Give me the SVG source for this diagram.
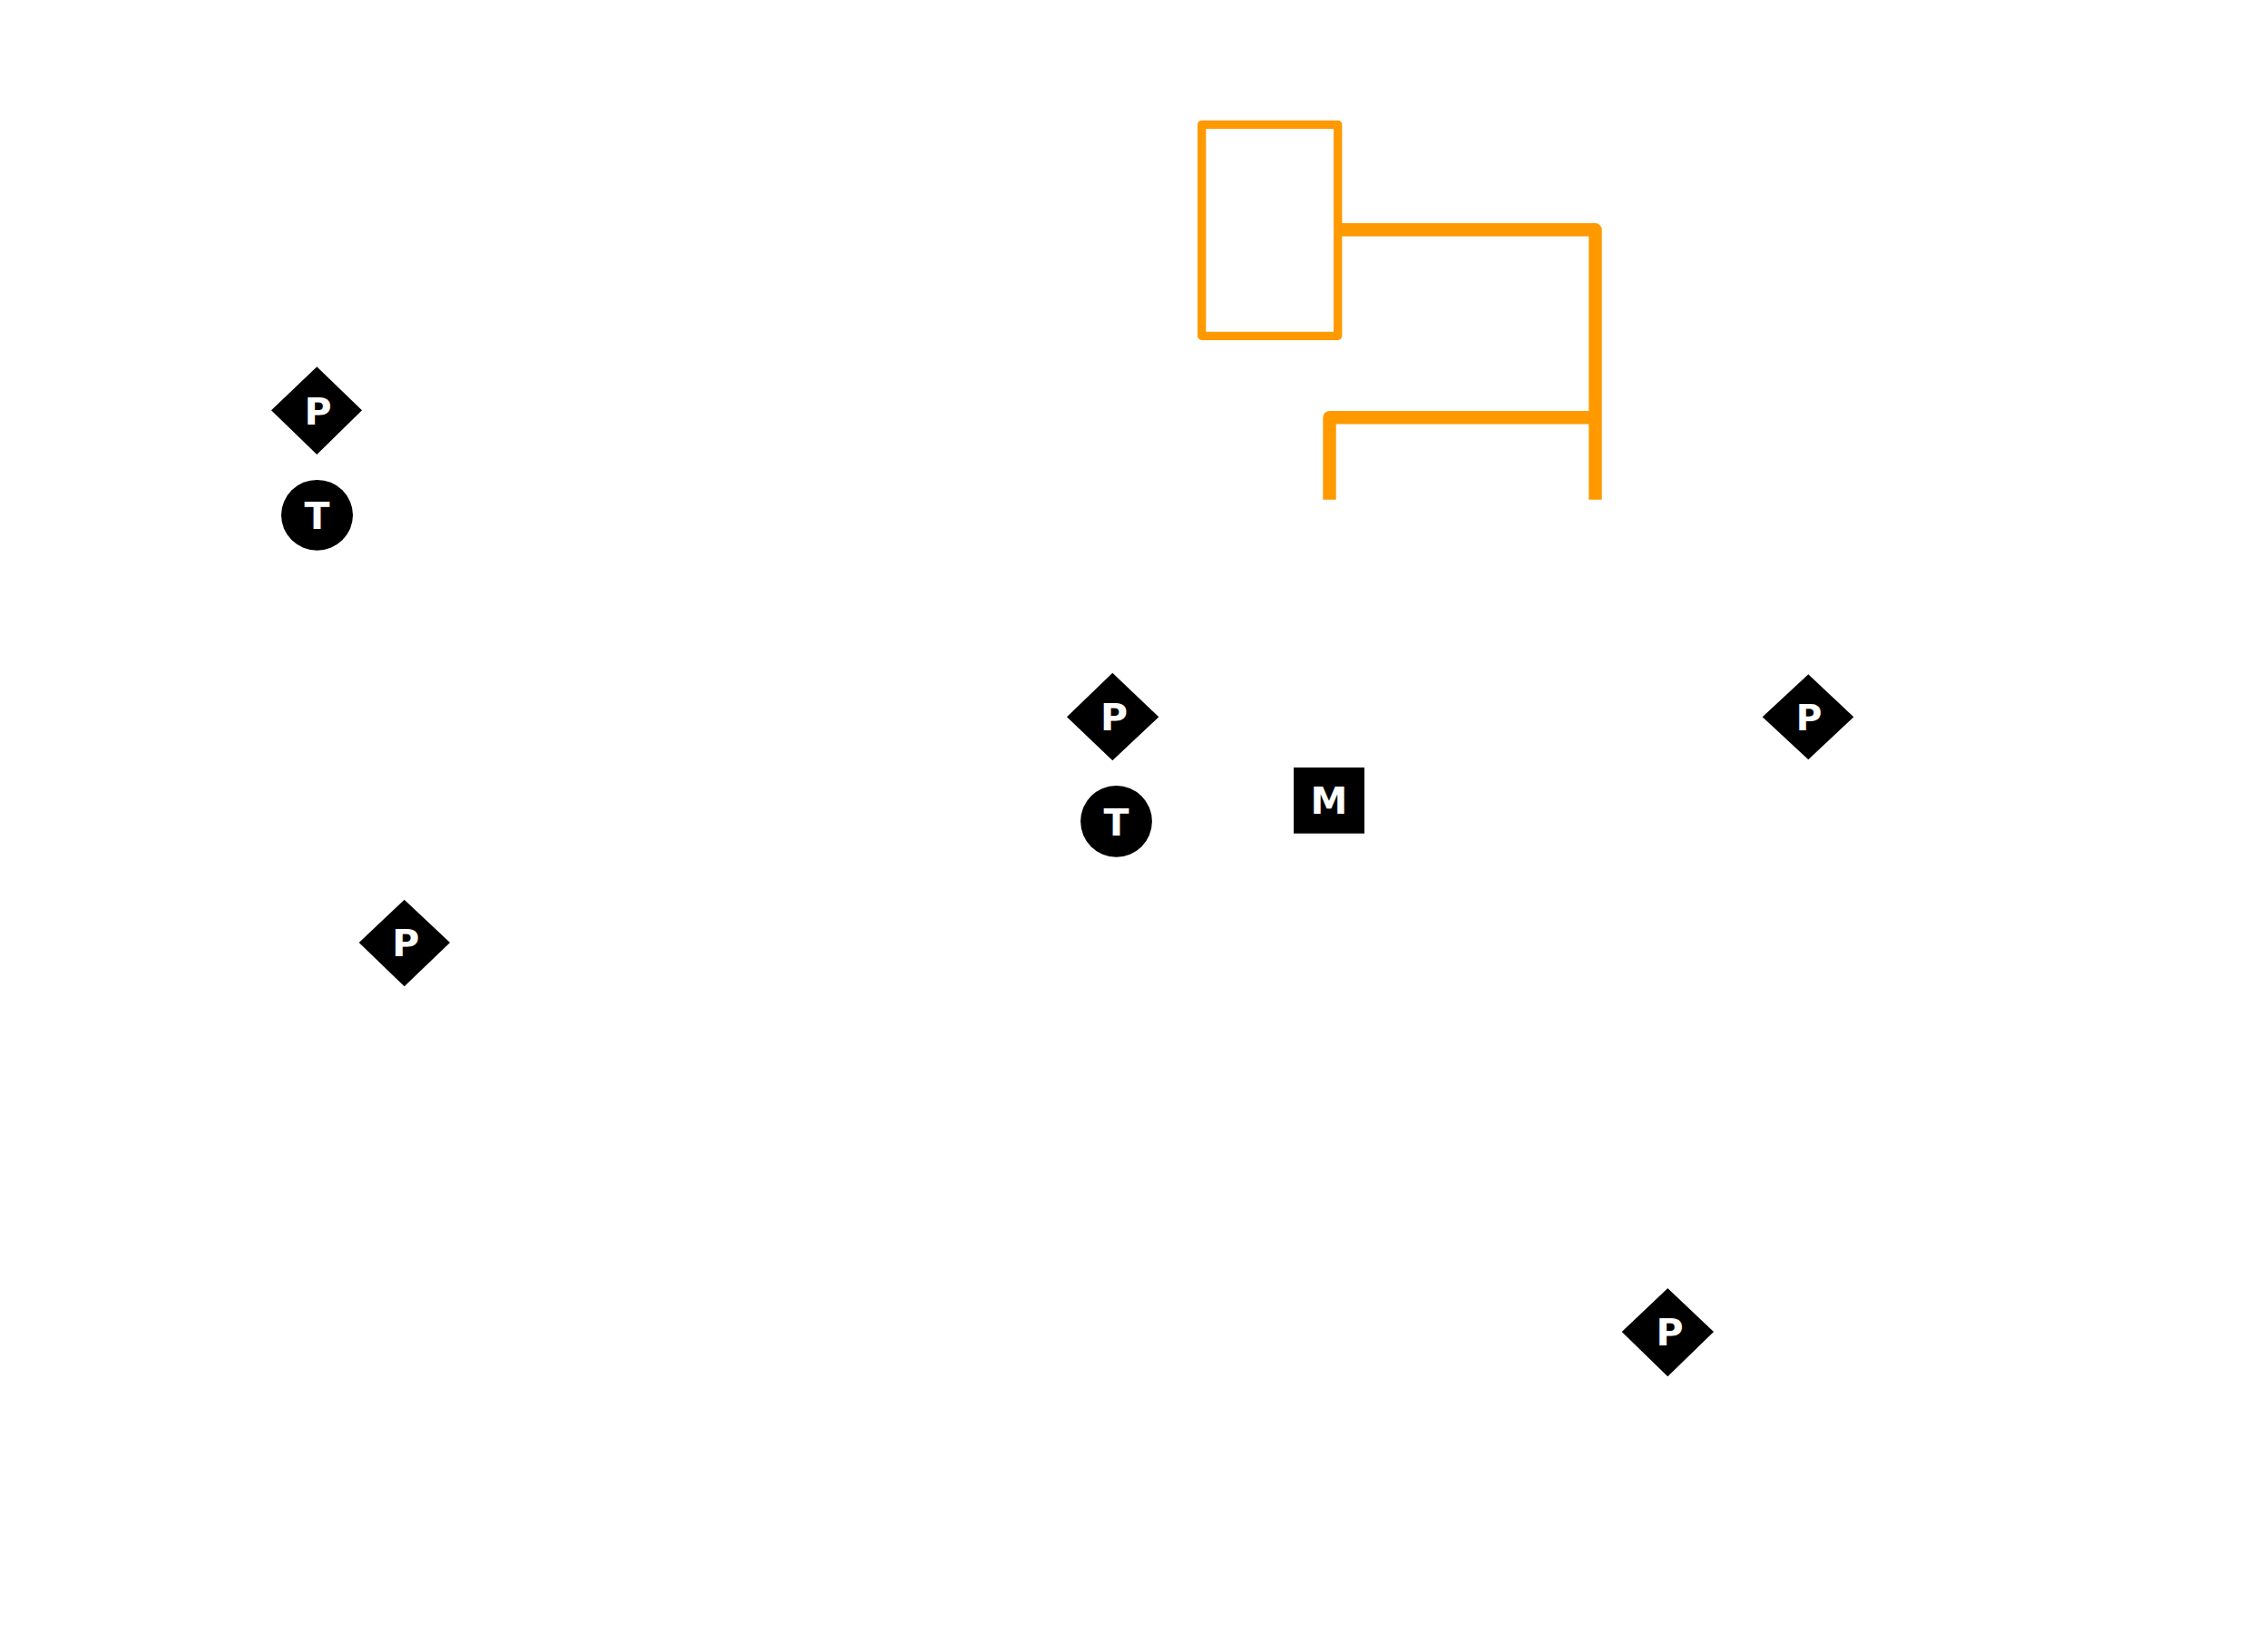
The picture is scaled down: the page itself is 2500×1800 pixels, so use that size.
<svg xmlns="http://www.w3.org/2000/svg" width="2500" height="1800" viewBox="0 0 2500 1800">
<style>
.shape{fill:#000}
.label{fill:#fff;font-family:"DejaVu Sans",sans-serif;font-weight:700;font-size:41px}
.small{font-size:39px}
.pipe{fill:none;stroke:#ff9900;stroke-linejoin:round}
.thin{stroke-width:9.3}
.thick{stroke-width:14.4}
</style>
<rect width="2500" height="1800" fill="#fff"/>
<g id="connectors">
<path class="pipe thick" d="M1474.7 253.3H1758.5V550.7"/>
<path class="pipe thick" d="M1758.5 460.2H1465.5V550.7"/>
<rect class="pipe thin" x="1324.7" y="137.3" width="150" height="233"/>
</g>
<g id="p1"><polygon class="shape" points="349.3,404.3 399,452.3 349.3,501 299,452.3"/><text class="label" x="335.5" y="468">P</text></g>
<g id="t1"><ellipse class="shape" cx="349.5" cy="567.8" rx="39.5" ry="38.9"/><text class="label" x="335.6" y="583">T</text></g>
<g id="p2"><polygon class="shape" points="1226.3,741.7 1277.3,790.3 1226.3,838.3 1176,790.3"/><text class="label" x="1212.9" y="805">P</text></g>
<g id="t2"><circle class="shape" cx="1230.5" cy="905.3" r="39.4"/><text class="label" x="1216.6" y="920.6">T</text></g>
<g id="m1"><rect class="shape" x="1426" y="846" width="78" height="72.7"/><text class="label" x="1444.5" y="897.2">M</text></g>
<g id="p3"><polygon class="shape" points="445.7,991.7 496,1039 445.7,1087.3 395.7,1039"/><text class="label" x="432.2" y="1054">P</text></g>
<g id="p4"><polygon class="shape" points="1993.3,743.3 2043.3,790.3 1993.3,837.3 1942.7,790.3"/><text class="label small" x="1979.7" y="805.3">P</text></g>
<g id="p5"><polygon class="shape" points="1838.3,1420 1889,1468 1838.3,1517.3 1787.7,1468"/><text class="label" x="1825.5" y="1483.2">P</text></g>
</svg>
